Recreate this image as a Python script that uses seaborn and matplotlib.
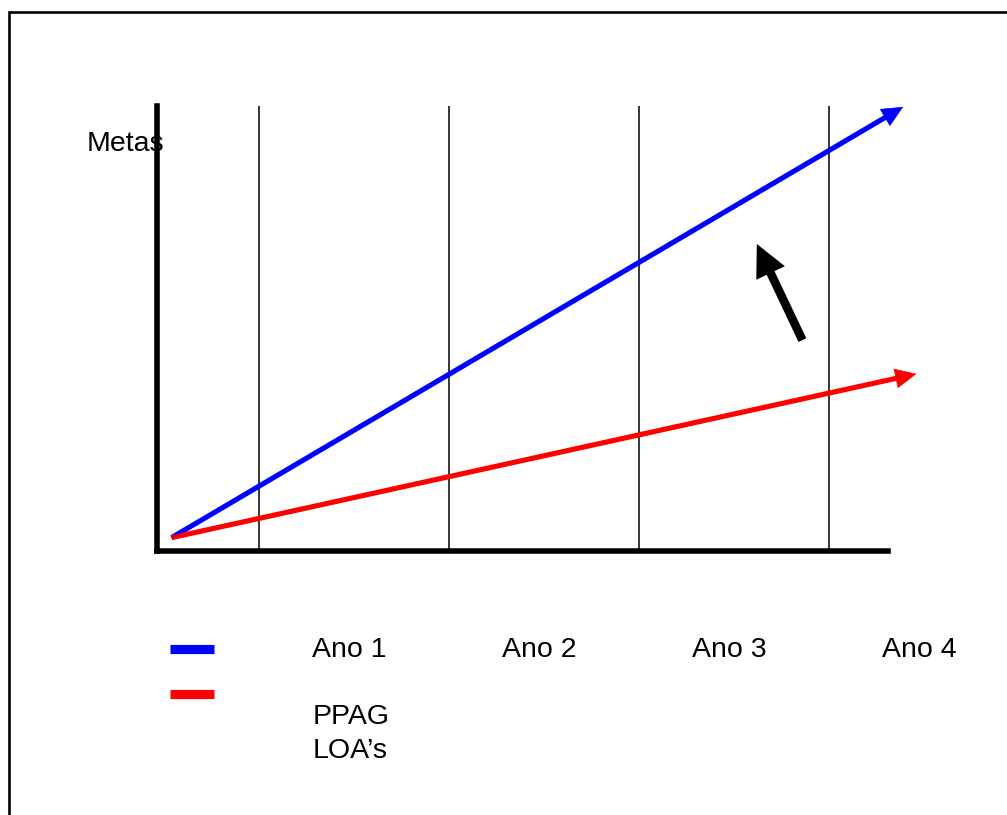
import numpy as np
import pandas as pd
import matplotlib
matplotlib.use("Agg")
import matplotlib.pyplot as plt
from matplotlib.lines import Line2D
import seaborn as sns

# ---------------- data ----------------
years = [1, 2, 3, 4]
year_labels = ["Ano 1", "Ano 2", "Ano 3", "Ano 4"]
metas_x = [0.54, 4.39]          # blue trend (Metas)
metas_y = [3.0, 99.8]
ppag_x = [0.54, 4.46]           # red trend (PPAG / LOA's)
ppag_y = [3.0, 39.8]
gap_x = [3.86, 3.62]            # black arrow (tail -> tip)
gap_y = [47.4, 69.0]
y_label = "Metas"
legend_labels = ["PPAG", "LOA\u2019s"]

# ---------------- style ----------------
sns.set_style("white")
plt.rcParams["font.family"] = ["Liberation Sans", "DejaVu Sans"]
plt.rcParams["text.color"] = "black"
FS = 20.5

W, H = 1007, 815
fig = plt.figure(figsize=(W / 100, H / 100), dpi=100)
fig.patch.set_facecolor("white")

# axes: left spine at px 157, bottom at px 551, top at px 106, 190 px per year
ax = fig.add_axes([157 / W, (H - 551) / H, (888 - 157) / W, (551 - 106) / H])
ax.set_xlim(1 - (259 - 157) / 190, 1 + (888 - 259) / 190)
ax.set_ylim(0, 100)
sns.despine(ax=ax)
for s in ("left", "bottom"):
    ax.spines[s].set_linewidth(4.0)
    ax.spines[s].set_color("black")
ax.set_xticks([])
ax.set_yticks([])
ax.set_facecolor("none")

def dx(px):
    return 1 + (px - 259) / 190

def dy(py):
    return (551 - py) / 4.45

# vertical year lines
ax.vlines(years, 0, 100, color="black", lw=1.1, zorder=1)

# shafts shortened a bit so the heads end sharp
def shaft_end(xs, ys, back_px):
    p0 = ax.transData.transform((xs[0], ys[0]))
    p1 = ax.transData.transform((xs[-1], ys[-1]))
    d = (p1 - p0) / np.hypot(*(p1 - p0))
    return ax.transData.inverted().transform(p1 - d * back_px)

rows = []
for name, xs, ys in (("Metas", metas_x, metas_y), ("PPAG", ppag_x, ppag_y)):
    ex, ey = shaft_end(xs, ys, 12)
    rows.append({"serie": name, "x": xs[0], "y": ys[0]})
    rows.append({"serie": name, "x": ex, "y": ey})
df = pd.DataFrame(rows)
pal = {"Metas": "#0000ff", "PPAG": "#ff0000"}
sns.lineplot(data=df, x="x", y="y", hue="serie", palette=pal, legend=False,
             lw=3.7, sort=False, estimator=None, ax=ax, clip_on=False,
             solid_capstyle="butt", zorder=4)

for xs, ys, c in ((metas_x, metas_y, pal["Metas"]), (ppag_x, ppag_y, pal["PPAG"])):
    ax.annotate("", xy=(xs[-1], ys[-1]), xytext=(xs[0], ys[0]),
                arrowprops=dict(arrowstyle="-|>,head_length=0.72,head_width=0.34",
                                mutation_scale=20, color=c, lw=0.5,
                                shrinkA=0, shrinkB=0),
                annotation_clip=False, zorder=5)

# black arrow
ax.annotate("", xy=(gap_x[1], gap_y[1]), xytext=(gap_x[0], gap_y[0]),
            arrowprops=dict(arrowstyle="-|>,head_length=0.65,head_width=0.32",
                            mutation_scale=20, color="black", lw=6.2,
                            shrinkA=0, shrinkB=0, joinstyle="miter",
                            capstyle="butt"),
            annotation_clip=False, zorder=5)

# texts
ax.text(dx(87), dy(151), y_label, fontsize=FS, ha="left", va="baseline",
        zorder=0, clip_on=False, color="black")
for yr, lab in zip(years, year_labels):
    ax.text(yr + 0.278, dy(657), lab, fontsize=FS, ha="left", va="baseline",
            clip_on=False, color="black")
ax.text(dx(313), dy(724), legend_labels[0], fontsize=FS, ha="left",
        va="baseline", clip_on=False, color="black")
ax.text(dx(313), dy(758), legend_labels[1], fontsize=FS, ha="left",
        va="baseline", clip_on=False, color="black")

# legend swatches
for c, py in ((pal["Metas"], 648.5), (pal["PPAG"], 694)):
    ax.plot([dx(170), dx(214)], [dy(py), dy(py)], color=c, lw=6.6,
            solid_capstyle="butt", clip_on=False)

# page frame (left and top edges)
fig.add_artist(Line2D([9 / W, 9 / W], [0, 1 - 12 / H], transform=fig.transFigure,
                      color="black", lw=1.9))
fig.add_artist(Line2D([9 / W, 1], [1 - 12 / H, 1 - 12 / H], transform=fig.transFigure,
                      color="black", lw=1.9))

fig.savefig("out.png", dpi=100, facecolor="white")
